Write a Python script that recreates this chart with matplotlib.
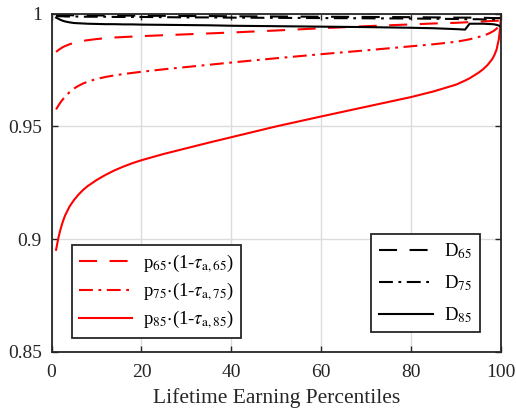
import matplotlib
matplotlib.use('Agg')
import matplotlib.pyplot as plt

# survival-adjusted tax wedges vs lifetime earning percentiles
plt.rcParams['font.family'] = ['Liberation Serif', 'DejaVu Serif']
plt.rcParams['mathtext.fontset'] = 'stix'
plt.rcParams['lines.scale_dashes'] = False

pct = [1, 1.5, 2, 2.5, 3, 4, 5, 6, 7, 8, 10, 12, 14, 16, 18, 20, 25, 30,
       35, 40, 50, 60, 70, 80, 85, 90, 92, 93, 95, 96, 97, 98, 98.5, 99,
       99.5, 99.8, 100]

p65 = [0.9830, 0.9838, 0.9845, 0.9851, 0.9856, 0.9864, 0.9870, 0.9875,
       0.9879, 0.9882, 0.9887, 0.9891, 0.9894, 0.9896, 0.9898, 0.9900,
       0.9904, 0.9908, 0.9912, 0.9916, 0.9925, 0.9935, 0.9944, 0.9952,
       0.9956, 0.9959, 0.9961, 0.9962, 0.9964, 0.9965, 0.9966, 0.9967,
       0.9968, 0.9968, 0.9969, 0.9970, 0.9970]
p75 = [0.9575, 0.9592, 0.9607, 0.9620, 0.9631, 0.9652, 0.9668, 0.9680,
       0.9690, 0.9698, 0.9710, 0.9719, 0.9726, 0.9732, 0.9737, 0.9742,
       0.9753, 0.9763, 0.9773, 0.9783, 0.9802, 0.9820, 0.9837, 0.9855,
       0.9864, 0.9875, 0.9882, 0.9886, 0.9896, 0.9902, 0.9909, 0.9919,
       0.9925, 0.9933, 0.9943, 0.9950, 0.9955]
p85 = [0.8953, 0.9005, 0.9045, 0.9078, 0.9105, 0.9145, 0.9174, 0.9198,
       0.9218, 0.9235, 0.9262, 0.9285, 0.9305, 0.9322, 0.9337, 0.9350,
       0.9378, 0.9403, 0.9428, 0.9452, 0.9500, 0.9544, 0.9587, 0.9630,
       0.9655, 0.9685, 0.9703, 0.9713, 0.9738, 0.9753, 0.9772, 0.9797,
       0.9815, 0.9840, 0.9885, 0.9935, 0.9993]

d65 = [0.9993, 0.9993, 0.9993, 0.9993, 0.9993, 0.9993, 0.9992, 0.9992,
       0.9992, 0.9992, 0.9992, 0.9991, 0.9991, 0.9991, 0.9991, 0.9990,
       0.9990, 0.9989, 0.9989, 0.9988, 0.9987, 0.9986, 0.9985, 0.9984,
       0.9983, 0.9982, 0.9982, 0.9982, 0.9981, 0.9981, 0.9981, 0.9980,
       0.9980, 0.9980, 0.9980, 0.9980, 0.9980]
d75 = [0.9988, 0.9988, 0.9988, 0.9988, 0.9987, 0.9987, 0.9987, 0.9987,
       0.9986, 0.9986, 0.9986, 0.9986, 0.9985, 0.9985, 0.9985, 0.9985,
       0.9984, 0.9983, 0.9983, 0.9982, 0.9981, 0.9980, 0.9979, 0.9978,
       0.9977, 0.9976, 0.9975, 0.9975, 0.9975, 0.9974, 0.9974, 0.9974,
       0.9973, 0.9973, 0.9973, 0.9973, 0.9973]
d85 = [0.9982, 0.9977, 0.9972, 0.9968, 0.9965, 0.9961, 0.9958, 0.9957,
       0.9956, 0.9955, 0.9954, 0.9953, 0.9953, 0.9952, 0.9952, 0.9951,
       0.9950, 0.9949, 0.9948, 0.9946, 0.9944, 0.9942, 0.9940, 0.9937,
       0.9935, 0.9931, 0.9929, 0.9955, 0.9955, 0.9955, 0.9954, 0.9953,
       0.9952, 0.9950, 0.9947, 0.9944, 0.9940]

xticks = [0, 20, 40, 60, 80, 100]
yticks = [0.85, 0.9, 0.95, 1]
ytick_labels = ['0.85', '0.9', '0.95', '1']

fig = plt.figure(figsize=(5.16, 4.11), dpi=100)
ax = fig.add_axes([0.100, 0.1436, 0.871, 0.8234])

lw = 1.5
dash = (13, 9)
dashdot = (10, 4, 2, 4)

r1, = ax.plot(pct, p65, color='red', lw=lw, dashes=dash)
r2, = ax.plot(pct, p75, color='red', lw=lw, dashes=dashdot)
r3, = ax.plot(pct, p85, color='red', lw=lw)
k1, = ax.plot(pct, d65, color='black', lw=lw, dashes=dash)
k2, = ax.plot(pct, d75, color='black', lw=lw, dashes=dashdot)
k3, = ax.plot(pct, d85, color='black', lw=lw)

ax.set_xlim(0, 100)
ax.set_ylim(0.85, 1)
ax.set_xticks(xticks)
ax.set_yticks(yticks)
ax.set_yticklabels(ytick_labels)
ax.tick_params(direction='in', top=True, right=True, labelsize=14,
               length=4, width=1, colors='#262626', labelcolor='#262626')
ax.tick_params(axis='x', pad=9)
ax.tick_params(axis='y', pad=7)
ax.grid(True, color='#dcdcdc', lw=1)
ax.set_axisbelow(True)
for s in ax.spines.values():
    s.set_color('#262626')
    s.set_linewidth(1.3)
ax.set_xlabel('Lifetime Earning Percentiles', fontsize=15.5, labelpad=5,
              color='#262626')

leg1 = ax.legend([r1, r2, r3],
                 [r'p$_{65}$$\cdot$(1-$\tau_{\mathrm{a,65}}$)',
                  r'p$_{75}$$\cdot$(1-$\tau_{\mathrm{a,75}}$)',
                  r'p$_{85}$$\cdot$(1-$\tau_{\mathrm{a,85}}$)'],
                 loc='upper left', bbox_to_anchor=(0.0445, 0.316),
                 borderaxespad=0, fontsize=13.5, handlelength=2.8,
                 labelspacing=0.32, handletextpad=0.6,
                 fancybox=False, framealpha=1, edgecolor='#262626')
leg1.get_frame().set_linewidth(1.3)
ax.add_artist(leg1)

leg2 = ax.legend([k1, k2, k3],
                 [r'D$_{65}$', r'D$_{75}$', r'D$_{85}$'],
                 loc='upper right', bbox_to_anchor=(0.953, 0.3486),
                 borderaxespad=0, fontsize=13.5, handlelength=2.9,
                 labelspacing=0.65, handletextpad=0.6,
                 fancybox=False, framealpha=1, edgecolor='#262626')
leg2.get_frame().set_linewidth(1.3)

fig.savefig('out.png', dpi=100)
